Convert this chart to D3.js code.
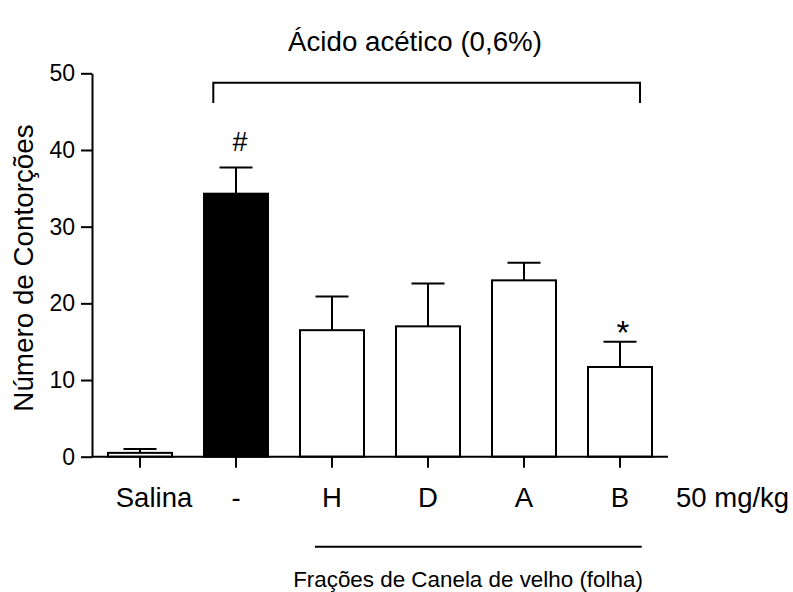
<!DOCTYPE html>
<html>
<head>
<meta charset="utf-8">
<script src="https://cdn.jsdelivr.net/npm/d3@7"></script>
<style>
  html, body { margin: 0; padding: 0; background: #fff; }
  svg { display: block; }
  text { font-family: "Liberation Sans", Arial, Helvetica, sans-serif; fill: #000; }
</style>
</head>
<body>
<svg id="chart" width="793" height="592"></svg>
<script>
// Writhing test: mean number of abdominal contortions (± SEM)
const categories = ["Salina", "-", "H", "D", "A", "B"];
const means      = [0.5, 34.3, 16.5, 17.0, 23.0, 11.7];
const sem        = [0.5, 3.4, 4.4, 5.6, 2.3, 3.3];
const fills      = ["#fff", "#000", "#fff", "#fff", "#fff", "#fff"];
const marks      = ["", "#", "", "", "", "*"];
const yTicks     = [0, 10, 20, 30, 40, 50];

const data = categories.map((c, i) => ({ cat: c, mean: means[i], sem: sem[i], fill: fills[i], mark: marks[i] }));

const svg = d3.select("#chart");
const plotLeft = 92, plotRight = 668, plotTop = 73.3, plotBottom = 456.7;

const x = d3.scaleBand().domain(categories).range([plotLeft, plotRight]).paddingInner(1 / 3).paddingOuter(1 / 6);
const y = d3.scaleLinear().domain([0, 50]).range([plotBottom, plotTop]);

// bars
svg.append("g").selectAll("rect").data(data).join("rect")
  .attr("x", d => x(d.cat))
  .attr("y", d => y(d.mean))
  .attr("width", x.bandwidth())
  .attr("height", d => y(0) - y(d.mean))
  .attr("fill", d => d.fill)
  .attr("stroke", "#000")
  .attr("stroke-width", 2);

// upper error bars
const capHalf = 16.5;
const eb = svg.append("g").attr("stroke", "#000").attr("stroke-width", 2);
data.forEach(d => {
  const cx = x(d.cat) + x.bandwidth() / 2;
  eb.append("line").attr("x1", cx).attr("x2", cx).attr("y1", y(d.mean)).attr("y2", y(d.mean + d.sem));
  eb.append("line").attr("x1", cx - capHalf).attr("x2", cx + capHalf).attr("y1", y(d.mean + d.sem)).attr("y2", y(d.mean + d.sem));
});

// significance marks
svg.append("g").selectAll("text").data(data.filter(d => d.mark)).join("text")
  .attr("x", d => x(d.cat) + x.bandwidth() / 2 + (d.mark === "#" ? 4 : 3))
  .attr("y", d => y(d.mean + d.sem) - (d.mark === "#" ? 17 : -2))
  .attr("text-anchor", "middle")
  .attr("font-size", d => d.mark === "#" ? 27 : 33)
  .text(d => d.mark);

// y axis
const yAxis = svg.append("g")
  .attr("transform", `translate(${plotLeft},0)`)
  .call(d3.axisLeft(y).tickValues(yTicks).tickSize(11).tickPadding(6).tickSizeOuter(0));
yAxis.select(".domain").attr("stroke-width", 2);
yAxis.selectAll(".tick line").attr("stroke-width", 2);
yAxis.selectAll(".tick text").attr("font-size", 23).attr("font-family", null);

// x axis
const xAxis = svg.append("g")
  .attr("transform", `translate(0,${plotBottom})`)
  .call(d3.axisBottom(x).tickSize(11).tickSizeOuter(0));
xAxis.select(".domain").attr("stroke-width", 2).attr("d", `M${plotLeft},0H${plotRight}`);
xAxis.selectAll(".tick line").attr("stroke-width", 2);
xAxis.selectAll(".tick text").attr("font-size", 27.5).attr("font-family", null)
  .attr("y", 50).attr("dy", 0)
  .attr("dx", d => d === "Salina" ? 14 : 0);

// dose label
svg.append("text").attr("x", 676).attr("y", plotBottom + 50).attr("font-size", 27.5).text("50 mg/kg");

// y-axis title
svg.append("text")
  .attr("transform", `translate(33,268) rotate(-90)`)
  .attr("text-anchor", "middle")
  .attr("font-size", 27.8)
  .text("Número de Contorções");

// acetic acid bracket and title
svg.append("path")
  .attr("d", `M213.3,103V82.7H640V103`)
  .attr("fill", "none").attr("stroke", "#000").attr("stroke-width", 2);
svg.append("text").attr("x", 415).attr("y", 51).attr("text-anchor", "middle")
  .attr("font-size", 27.7).text("Ácido acético (0,6%)");

// fractions underline and caption
svg.append("line").attr("x1", 315).attr("x2", 641.7).attr("y1", 546.7).attr("y2", 546.7)
  .attr("stroke", "#000").attr("stroke-width", 2);
svg.append("text").attr("x", 468).attr("y", 586.5).attr("text-anchor", "middle")
  .attr("font-size", 22.4).text("Frações de Canela de velho (folha)");
</script>
</body>
</html>
